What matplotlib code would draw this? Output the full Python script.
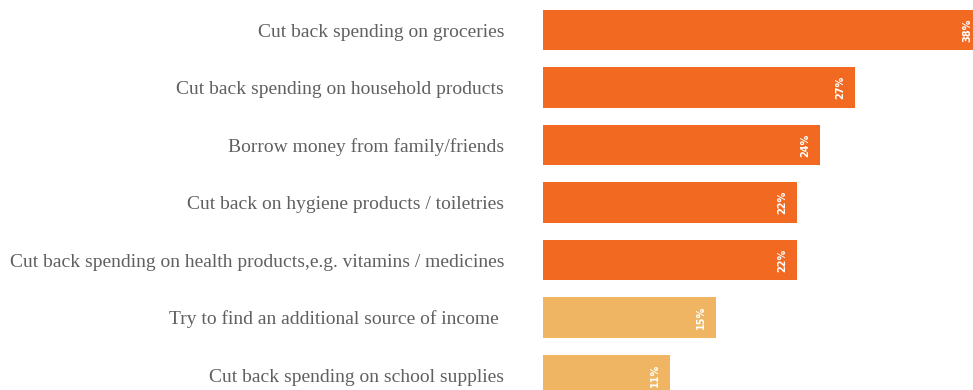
import matplotlib.pyplot as plt

actions = [
    "Cut back spending on groceries",
    "Cut back spending on household products",
    "Borrow money from family/friends",
    "Cut back on hygiene products / toiletries",
    "Cut back spending on health products,e.g. vitamins / medicines",
    "Try to find an additional source of income ",
    "Cut back spending on school supplies",
]
share = [38, 27, 24, 22, 22, 15, 11]
highlight = [True, True, True, True, True, False, False]

dark = '#F26A22'
light = '#F0B562'
colors = [dark if h else light for h in highlight]

fig = plt.figure(figsize=(9.73, 3.9), dpi=100)
ax = fig.add_axes([543/973, 0, 1 - 543/973, 1])

y = list(range(len(actions)))
ax.barh(y, share, height=0.70, color=colors)

for yi, v in zip(y, share):
    ax.text(v - 1.3, yi, f'{v}%', rotation=90, ha='center', va='center',
            color='white', fontsize=7, fontweight='bold', family='DejaVu Sans')

ax.set_xlim(0, 37.2)
ax.set_ylim(6.26, -0.522)
ax.set_yticks(y)
ax.set_yticklabels(actions, family='Liberation Serif', fontsize=14, color='#606060')
ax.tick_params(axis='y', length=0, pad=28)
ax.set_xticks([])
for s in ax.spines.values():
    s.set_visible(False)

fig.savefig('out.png', dpi=100)
